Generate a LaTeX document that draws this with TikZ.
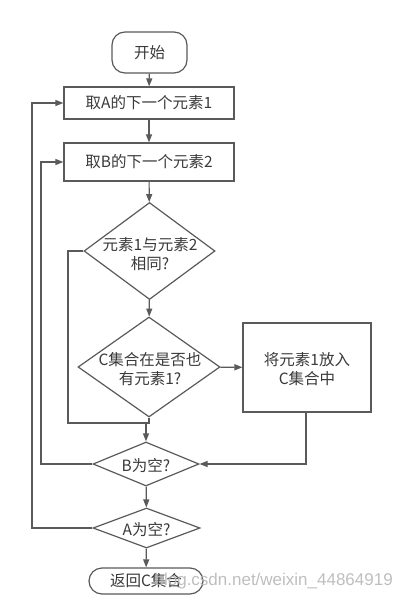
\documentclass[tikz,border=0pt]{standalone}
\usepackage{fontspec}
\setmainfont{Noto Sans CJK SC}
\newfontfamily\wmfont{Liberation Sans}
\usetikzlibrary{arrows.meta,shapes.geometric}
\definecolor{ln}{HTML}{5A5A5A}
\definecolor{tx}{HTML}{3A3A3A}
\begin{document}
\begin{tikzpicture}[x=1pt,y=-1pt,
  every node/.style={text=tx,font=\fontsize{15.5}{19}\selectfont,inner sep=0pt},
  box/.style={draw=ln,line width=1.2pt,rectangle},
  term/.style={draw=ln,line width=1.2pt,rectangle,rounded corners=13pt},
  dia/.style={draw=ln,line width=1.2pt,diamond},
  lbl/.style={align=center},
  conn/.style={draw=ln,line width=1.2pt},
  arr/.style={conn,-{Triangle[length=8pt,width=6pt]}}]
\useasboundingbox (0,0) rectangle (402,601);
\fill[white] (0,0) rectangle (402,601);
% nodes
\node[term,minimum width=75pt,minimum height=41pt] (start) at (149.5,52.5) {开始};
\node[box,minimum width=170pt,minimum height=32pt] (ga) at (149,103) {取A的下一个元素1};
\node[box,minimum width=170pt,minimum height=38pt] (gb) at (149,162) {取B的下一个元素2};
\node[dia,minimum width=131pt,minimum height=97pt] (d1) at (149.5,251) {};
\node[lbl] (d1t) at (150,254) {元素1与元素2\\相同?};
\node[dia,minimum width=142pt,minimum height=100pt] (d2) at (149,367) {};
\node[lbl] (d2t) at (150,369) {C集合在是否也\\有元素1?};
\node[box,minimum width=128pt,minimum height=89pt] (put) at (307,367.5) {};
\node[lbl] (putt) at (307,369) {将元素1放入\\C集合中};
\node[dia,minimum width=106pt,minimum height=44pt] (db) at (146,464) {};
\node (dbt) at (146,465) {B为空?};
\node[dia,minimum width=107pt,minimum height=40pt] (da) at (146.5,528) {};
\node (dat) at (146.5,529) {A为空?};
\node[term,minimum width=114pt,minimum height=26pt] (end) at (146,581) {返回C集合};
% helper coordinates
\coordinate (j) at (146,423);
\coordinate (l1) at (68,251);
\coordinate (l2) at (68,423);
\coordinate (cb) at (306,464);
\coordinate (ib) at (41,464);
\coordinate (ib2) at (41,162);
\coordinate (ia) at (32,528);
\coordinate (ia2) at (32,103);
% connectors
\draw[arr] (start) -- (ga);
\draw[arr] (ga) -- (gb);
\draw[arr] (gb) -- (d1);
\draw[arr] (d1) -- (d2);
\draw[arr] (d2) -- (put);
\draw[conn] (d2.south) -- (149,423) -- (j);
\draw[conn] (d1.west) -- (l1) -- (l2) -- (j);
\draw[arr] (j) -- (db.north);
\draw[arr] (put.south -| cb) -- (cb) -- (db.east);
\draw[arr] (db) -- (da);
\draw[arr] (da) -- (end);
\draw[arr] (db.west) -- (ib) -- (ib2) -- (gb.west);
\draw[arr] (da.west) -- (ia) -- (ia2) -- (ga.west);
% watermark
\node[anchor=east,text=black!28,font=\wmfont\fontsize{17}{20}\selectfont,opacity=0.9] (wm) at (393,581) {blog.csdn.net/weixin\_44864919};
\end{tikzpicture}
\end{document}
